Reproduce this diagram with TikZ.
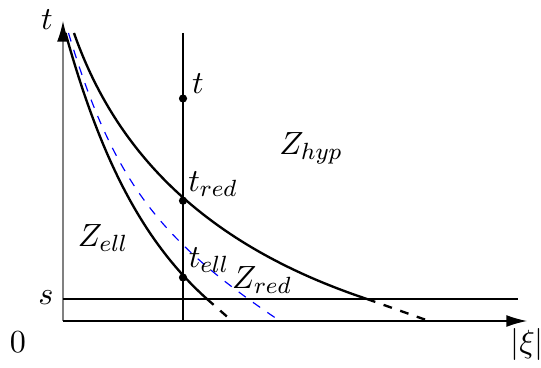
\documentclass[tikz,border=0pt]{standalone}
\usetikzlibrary{arrows.meta}
\begin{document}
\begin{tikzpicture}[x=0.341pt,y=-0.341pt,
  axisline/.style={line width=0.4pt},
  bound/.style={line width=0.8pt},
  ext/.style={line width=0.8pt,dashed},
  midcurve/.style={line width=0.4pt,blue,dashed},
  dot/.style={circle,fill=black,inner sep=0pt,minimum size=2.8pt},
  lab/.style={inner sep=0pt,font=\fontsize{11}{13}\selectfont}]
\useasboundingbox (0,0) rectangle (541,367);
% axes
\coordinate (O) at (63,321);
\coordinate (ytip) at (63,21);
\coordinate (xtip) at (527,321);
\draw[axisline,gray,-{Latex[black,length=7pt,width=4pt]}] (O) -- (ytip);
\draw[axisline,-{Latex[length=7pt,width=4pt]}] (O) -- (xtip);
% s line
\coordinate (sL) at (63,299);
\coordinate (sR) at (518,299);
\draw[axisline] (sL) -- (sR);
% vertical line
\coordinate (vT) at (183,33);
\coordinate (vB) at (183,321);
\draw[axisline] (vT) -- (vB);
% curves
\coordinate (iA) at (65.5,33);
\coordinate (iB) at (207,299);
\coordinate (iC) at (232,321);
\draw[bound] (iA) .. controls (99,153) and (140,239) .. (iB);
\draw[ext] (iB) -- (iC);
\coordinate (oA) at (74,33);
\coordinate (oB) at (367,299);
\coordinate (oC) at (429,321);
\draw[bound] (oA) .. controls (119.5,163) and (217,249) .. (oB);
\draw[ext] (oB) -- (oC);
\coordinate (bA) at (68.5,33);
\coordinate (bB) at (280,321);
\draw[midcurve] (bA) .. controls (113.5,183) and (160.8,241) .. (bB);
% points
\node[dot] (pt) at (183,98.5) {};
\node[dot] (pred) at (183,200.7) {};
\node[dot] (pell) at (183,277.5) {};
% labels
\node[lab] (lt) at (47,20) {$t$};
\node[lab] (lt2) at (198,84) {$t$};
\node[lab] (ltred) at (213,184) {$t_{red}$};
\node[lab] (ltell) at (209,260) {$t_{ell}$};
\node[lab] (lzhyp) at (311,148) {$Z_{hyp}$};
\node[lab] (lzell) at (103,238) {$Z_{ell}$};
\node[lab] (lzred) at (262,280) {$Z_{red}$};
\node[lab] (ls) at (46,298) {$s$};
\node[lab] (l0) at (18,342) {$0$};
\node[lab] (lxi) at (527,344) {$|\xi|$};
\end{tikzpicture}
\end{document}
